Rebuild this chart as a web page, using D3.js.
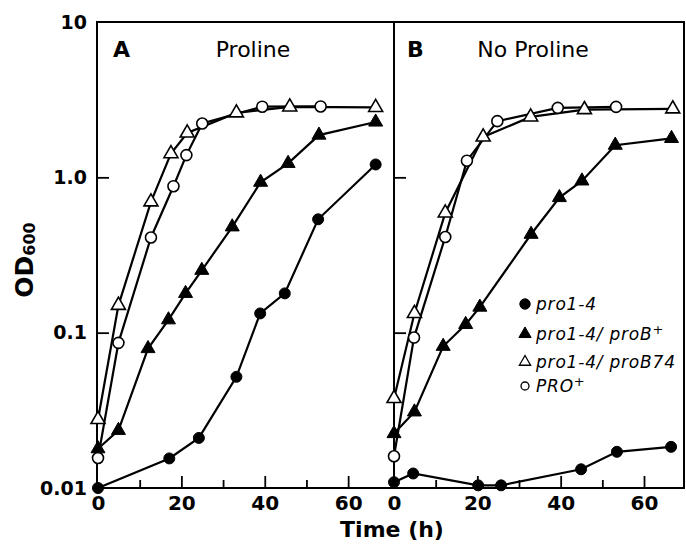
<!DOCTYPE html>
<html>
<head>
<meta charset="utf-8">
<script src="https://cdn.jsdelivr.net/npm/d3@7"></script>
<style>
  html, body { margin: 0; padding: 0; background: #fff; }
  svg { display: block; }
  text { font-family: "DejaVu Sans", sans-serif; fill: #000; }
</style>
</head>
<body>
<svg id="chart" width="686" height="548"></svg>
<script>
// ---- data ----
const panels = ["A", "B"];
const panelTitles = ["Proline", "No Proline"];
const seriesNames = ["pro1-4", "pro1-4/ proB+", "pro1-4/ proB74", "PRO+"];
const yTickValues = [0.01, 0.1, 1, 10];
const yTickLabels = ["0.01", "0.1", "1.0", "10"];
const xMajorTicks = [0, 20, 40, 60];
const xMinorTicks = [10, 30, 50];

// Panel A (Proline)
const tA_pro14 = [0, 17.1, 24.2, 33.2, 38.9, 44.8, 52.8, 66.6];
const odA_pro14 = [0.010, 0.0155, 0.021, 0.052, 0.133, 0.179, 0.537, 1.21];
const tA_proBplus = [0, 4.9, 12.0, 16.9, 21.0, 24.9, 32.2, 39.0, 45.6, 53.0, 66.6];
const odA_proBplus = [0.0179, 0.0235, 0.079, 0.121, 0.179, 0.252, 0.48, 0.93, 1.23, 1.87, 2.27];
const tA_proB74 = [0, 4.9, 12.7, 17.5, 21.4, 33.2, 46.0, 66.6];
const odA_proB74 = [0.0276, 0.15, 0.695, 1.42, 1.93, 2.60, 2.84, 2.82];
const tA_PRO = [0, 4.9, 12.7, 18.1, 21.2, 25.0, 39.4, 53.4];
const odA_PRO = [0.0156, 0.086, 0.41, 0.877, 1.39, 2.22, 2.85, 2.86];

// Panel B (No Proline)
const tB_pro14 = [0, 4.6, 20.2, 25.7, 44.9, 53.5, 66.5];
const odB_pro14 = [0.0109, 0.0124, 0.0104, 0.0104, 0.0132, 0.0171, 0.0184];
const tB_proBplus = [0, 4.9, 11.8, 17.2, 20.6, 32.9, 39.7, 45.1, 53.1, 66.6];
const odB_proBplus = [0.0224, 0.0309, 0.0817, 0.113, 0.146, 0.43, 0.741, 0.948, 1.61, 1.78];
const tB_proB74 = [0, 4.9, 12.3, 21.4, 32.8, 45.7, 66.9];
const odB_proB74 = [0.0377, 0.133, 0.59, 1.82, 2.45, 2.73, 2.76];
const tB_PRO = [0, 4.8, 12.3, 17.5, 24.8, 39.3, 53.3];
const odB_PRO = [0.016, 0.093, 0.413, 1.28, 2.30, 2.80, 2.84];

// ---- build ----
const zip = (t, v) => t.map((d, i) => ({ t: d, v: v[i] }));
const panelData = [
  [zip(tA_pro14, odA_pro14), zip(tA_proBplus, odA_proBplus), zip(tA_proB74, odA_proB74), zip(tA_PRO, odA_PRO)],
  [zip(tB_pro14, odB_pro14), zip(tB_proBplus, odB_proBplus), zip(tB_proB74, odB_proB74), zip(tB_PRO, odB_PRO)]
];
// marker style per series: [shape, filled]
const markerStyle = [["circle", true], ["triangle", true], ["triangle", false], ["circle", false]];

const svg = d3.select("#chart");
const plotTop = 22, plotBottom = 488;
const y = d3.scaleLog().domain([0.01, 10]).range([plotBottom, plotTop]);
const xScales = [
  d3.scaleLinear().domain([0, 71]).range([98, 394]),
  d3.scaleLinear().domain([0, 69.6]).range([394, 684])
];
const frameLeft = [97, 394], frameRight = [394, 684];

function symbolPath(shape, area) {
  return d3.symbol().type(shape === "circle" ? d3.symbolCircle : d3.symbolTriangle).size(area)();
}

panels.forEach((p, pi) => {
  const x = xScales[pi];
  const g = svg.append("g");

  // frame
  g.append("rect")
    .attr("x", frameLeft[pi]).attr("y", plotTop)
    .attr("width", frameRight[pi] - frameLeft[pi]).attr("height", plotBottom - plotTop)
    .attr("fill", "none").attr("stroke", "#000").attr("stroke-width", 2);

  // x axis (major, inward)
  const xAx = g.append("g").attr("transform", `translate(0,${plotBottom})`)
    .call(d3.axisBottom(x).tickValues(xMajorTicks).tickSize(-12).tickPadding(8).tickFormat(d3.format("d")));
  xAx.select(".domain").remove();
  xAx.selectAll("line").attr("stroke-width", 1.8);
  xAx.selectAll("text").style("font-size", "20px").style("font-weight", "bold")
    .style("font-family", "DejaVu Sans").attr("dy", "0.72em");
  xAx.selectAll(".tick").filter(d => d === 0).select("line").remove();
  // minor
  const xMin = g.append("g").attr("transform", `translate(0,${plotBottom})`)
    .call(d3.axisBottom(x).tickValues(xMinorTicks).tickSize(-8).tickFormat(""));
  xMin.select(".domain").remove();
  xMin.selectAll("line").attr("stroke-width", 1.8);

  // y axis (inward ticks)
  const yAx = g.append("g").attr("transform", `translate(${frameLeft[pi]},0)`)
    .call(d3.axisLeft(y).tickValues(yTickValues).tickSize(-12).tickPadding(10)
      .tickFormat((d, i) => pi === 0 ? yTickLabels[i] : ""));
  yAx.select(".domain").remove();
  yAx.selectAll("line").attr("stroke-width", 1.8);
  yAx.selectAll(".tick").filter(d => d === 0.01 || d === 10).select("line").remove();
  yAx.selectAll("text").style("font-size", "19px").style("font-weight", "bold")
    .style("font-family", "DejaVu Sans");

  // panel letter and title
  g.append("text").attr("x", frameLeft[pi] + (pi === 0 ? 16 : 13)).attr("y", 57)
    .style("font-size", "22px").style("font-weight", "bold").text(p);
  g.append("text").attr("x", pi === 0 ? 253 : 533).attr("y", 57).attr("text-anchor", "middle")
    .style("font-size", "22px").text(panelTitles[pi]);

  const line = d3.line().x(d => x(d.t)).y(d => y(d.v));
  const drawOrder = [3, 2, 1, 0];
  drawOrder.forEach(si => {
    g.append("path").datum(panelData[pi][si]).attr("d", line)
      .attr("fill", "none").attr("stroke", "#000").attr("stroke-width", 2.2);
  });
  drawOrder.forEach(si => {
    const [shape, filled] = markerStyle[si];
    g.selectAll(null).data(panelData[pi][si]).enter().append("path")
      .attr("transform", d => `translate(${x(d.t)},${y(d.v)})`)
      .attr("d", symbolPath(shape, shape === "circle" ? 95 : 85))
      .attr("fill", filled ? "#000" : "#fff")
      .attr("stroke", "#000").attr("stroke-width", filled ? 1 : 1.6);
  });
});

// axis titles
svg.append("text").attr("x", 392).attr("y", 537).attr("text-anchor", "middle")
  .style("font-size", "22px").style("font-weight", "bold").text("Time (h)");
const od = svg.append("text").attr("transform", "translate(33,260) rotate(-90)")
  .attr("text-anchor", "middle").style("font-weight", "bold");
od.append("tspan").style("font-size", "25px").text("OD");
od.append("tspan").style("font-size", "16px").attr("dy", 2).text("600");

// legend
const legendY = [304, 334, 362, 386];
const legendParts = [["pro1-4", ""], ["pro1-4/ proB", "+"], ["pro1-4/ proB74", ""], ["PRO", "+"]];
const legendArea = [[85, true], [65, true], [55, false], [50, false]];
seriesNames.forEach((name, i) => {
  const [shape, filled] = markerStyle[i];
  svg.append("path")
    .attr("transform", `translate(525,${legendY[i]})`)
    .attr("d", symbolPath(shape, legendArea[i][0]))
    .attr("fill", filled ? "#000" : "#fff").attr("stroke", "#000").attr("stroke-width", filled ? 1 : 1.3);
  const t = svg.append("text").attr("x", 536).attr("y", legendY[i]).attr("dy", "0.36em")
    .style("font-size", "17px").style("font-style", "italic").style("letter-spacing", "0.8px");
  t.append("tspan").text(legendParts[i][0]);
  if (legendParts[i][1]) {
    t.append("tspan").attr("dy", -6).style("font-size", "13px").text(legendParts[i][1]);
  }
});
</script>
</body>
</html>
